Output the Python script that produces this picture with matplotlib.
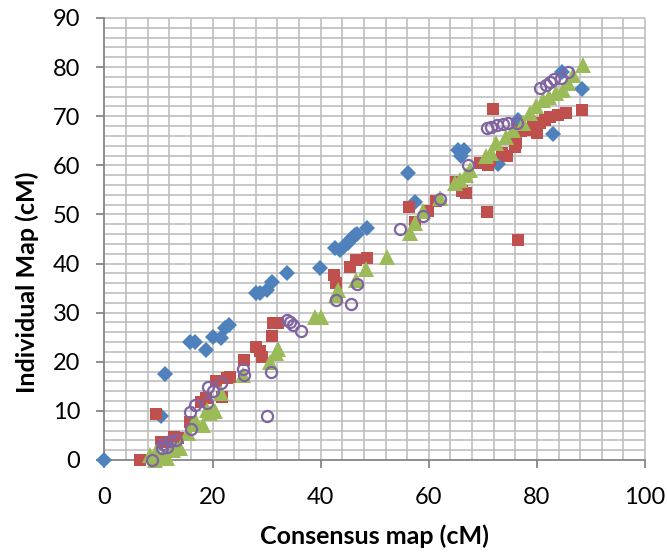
import matplotlib
matplotlib.use("Agg")
import matplotlib.pyplot as plt
import numpy as np
from matplotlib.ticker import MultipleLocator

plt.rcParams['font.family'] = ['Lato', 'DejaVu Sans']

blue_x = [0, 10.5, 11.2, 15.8, 16.7, 18.8, 20.1, 21.5, 22.3, 23.1, 28.1, 28.7, 30.0, 30.9, 33.7, 39.8,
          42.6, 43.5, 44.1, 45.0, 45.4, 45.8, 46.3, 46.7, 48.5, 56.2, 57.4, 65.4, 66.0, 66.6, 72.8,
          76.5, 83.0, 84.7, 88.4]
blue_y = [0, 9.0, 17.5, 24.1, 24.0, 22.4, 25.1, 24.8, 26.9, 27.5, 34.0, 34.0, 34.6, 36.3, 38.0, 39.0,
          43.1, 42.8, 43.4, 44.1, 44.8, 45.2, 45.8, 46.0, 47.2, 58.4, 52.6, 63.1, 61.8, 63.1, 60.3,
          69.2, 66.4, 79.1, 75.5]

red_x = [6.6, 9.6, 10.5, 11.2, 12.9, 13.6, 15.9, 17.8, 18.8, 20.7, 21.7, 22.6, 23.2, 25.8, 28.0, 28.7,
         29.1, 30.9, 31.2, 32.1, 42.5, 42.9, 45.4, 46.5, 48.5, 56.3, 57.4, 59.9, 61.4, 65.0, 66.2,
         66.9, 69.4, 70.7, 70.9, 71.4, 71.9, 73.5, 74.5, 75.9, 76.2, 76.5, 77.1, 78.1, 79.3, 80.0,
         80.6, 81.5, 82.5, 83.9, 85.4, 88.4]
red_y = [0, 9.4, 3.7, 3.7, 4.7, 4.4, 7.8, 11.8, 12.6, 16.1, 12.8, 16.6, 17.0, 20.3, 23.1, 22.1,
         21.0, 25.3, 27.8, 27.8, 37.7, 36.0, 39.2, 40.8, 41.2, 51.5, 48.5, 50.6, 52.8, 56.7, 54.8,
         54.3, 60.4, 50.5, 60.1, 61.1, 71.4, 62.5, 62.0, 63.8, 64.5, 44.8, 66.9, 67.2, 67.8, 66.5,
         68.6, 69.2, 69.9, 70.3, 70.6, 71.3]

green_x = [8.4, 9.3, 9.6, 10.6, 11.5, 12.7, 13.3, 14.0, 15.5, 16.3, 17.0, 18.3, 18.9, 19.5, 20.5, 21.5,
           25.7, 30.6, 31.8, 32.1, 38.9, 40.1, 42.9, 43.2, 46.6, 48.3, 52.3, 56.5, 57.4, 58.9, 62.0,
           64.8, 65.7, 66.9, 67.6, 70.6, 71.6, 72.5, 74.3, 75.6, 77.4, 78.7, 79.9, 81.1, 82.3, 83.6,
           84.8, 85.7, 86.6, 88.5]
green_y = [1.0, 0, 1.7, 0.5, 0.5, 2.0, 2.7, 2.4, 5.4, 7.3, 7.8, 7.1, 10.2, 9.5, 10.0, 13.6,
           17.3, 20.0, 21.7, 22.7, 29.2, 29.2, 33.6, 34.6, 36.7, 38.8, 41.3, 46.2, 48.2, 50.6, 53.3,
           56.4, 57.0, 58.0, 59.1, 61.8, 62.5, 64.5, 65.8, 67.2, 68.6, 70.6, 72.0, 73.3, 74.0, 74.7,
           75.4, 76.7, 78.4, 80.4]

purple_x = [8.7, 10.6, 10.9, 11.5, 12.1, 13.2, 16.0, 15.9, 16.7, 18.9, 19.2, 20.1, 21.5, 25.7, 25.9,
            30.1, 30.8, 33.7, 34.3, 34.9, 36.3, 42.9, 45.6, 46.8, 54.7, 58.9, 62.0, 67.3, 70.7,
            71.5, 72.6, 73.7, 74.6, 76.3, 80.5, 81.6, 82.5, 83.1, 84.4, 85.8]
purple_y = [0, 2.4, 3.2, 2.7, 3.9, 4.0, 6.3, 9.8, 11.2, 11.7, 14.9, 14.1, 15.6, 18.5, 17.4,
            9.0, 18.0, 28.5, 28.0, 27.5, 26.3, 32.6, 31.8, 35.8, 47.0, 49.7, 53.2, 60.1, 67.6,
            67.9, 68.2, 68.4, 68.6, 68.7, 75.8, 76.4, 76.9, 77.6, 77.7, 79.0]

x_label = "Consensus map (cM)"
y_label = "Individual Map (cM)"

fig = plt.figure(figsize=(6.67, 5.54), dpi=100)
ax = fig.add_axes([104.5 / 667, 94 / 554, (645 - 104.5) / 667, (460 - 18) / 554])

ax.set_xlim(0, 100)
ax.set_ylim(0, 90)

# gridlines (major + minor, Excel style)
grid_kw = dict(color='#BFBFBF', linewidth=1.2, zorder=0, clip_on=False)
ax.vlines(np.arange(4, 101, 4), 0, 90, **grid_kw)
ax.hlines(np.arange(2, 91, 2), 0, 100, **grid_kw)

ax.plot(blue_x, blue_y, linestyle='none', marker='D', markersize=8.0, color='#4F81BD',
        markeredgewidth=0, clip_on=False, zorder=3)
ax.plot(red_x, red_y, linestyle='none', marker='s', markersize=9.0, color='#C0504D',
        markeredgewidth=0, clip_on=False, zorder=4)
ax.plot(green_x, green_y, linestyle='none', marker='^', markersize=11, color='#9BBB59',
        markeredgewidth=0, clip_on=False, zorder=5)
ax.plot(purple_x, purple_y, linestyle='none', marker='o', markersize=8.0, markerfacecolor='none',
        markeredgecolor='#8064A2', markeredgewidth=1.6, clip_on=False, zorder=6)

ax.xaxis.set_major_locator(MultipleLocator(20))
ax.yaxis.set_major_locator(MultipleLocator(10))

for s in ['top', 'right']:
    ax.spines[s].set_visible(False)
for s in ['left', 'bottom']:
    ax.spines[s].set_color('#868686')
    ax.spines[s].set_linewidth(1.3)
    ax.spines[s].set_zorder(2)

ax.tick_params(which='major', direction='out', length=5.5, width=1.3, color='#868686',
               labelsize=17, labelcolor='black')
ax.tick_params(axis='y', pad=12)
ax.tick_params(axis='x', pad=14)

ax.set_xlabel(x_label, fontsize=18, fontweight='bold', labelpad=12)
ax.set_ylabel(y_label, fontsize=18, fontweight='bold', labelpad=10, y=0.403)

fig.savefig('out.png', dpi=100)
